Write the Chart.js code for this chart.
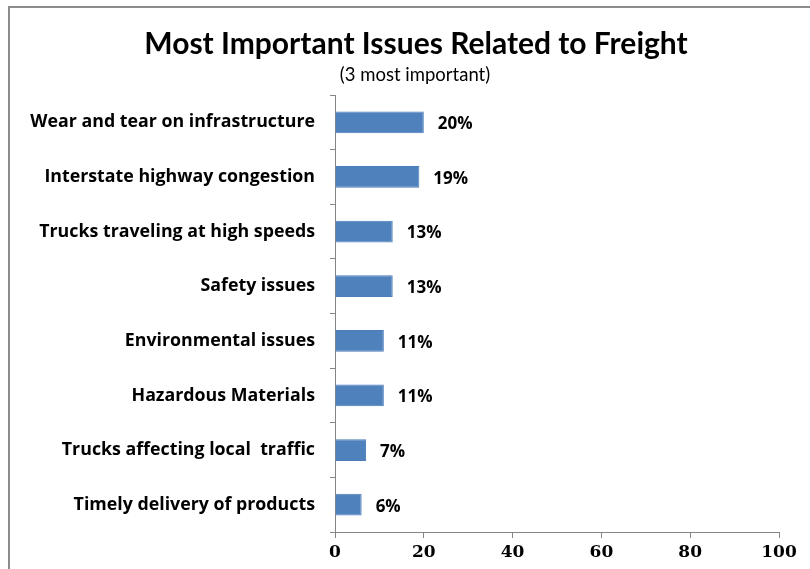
<!DOCTYPE html>
<html>
<head>
<meta charset="utf-8">
<script src="https://cdn.jsdelivr.net/npm/chart.js@4/dist/chart.umd.min.js"></script>
<style>
  html, body { margin: 0; padding: 0; background: #fff; overflow: hidden; }
  canvas { display: block; }
</style>
</head>
<body>
<canvas id="chart" width="810" height="569"></canvas>
<script>
const titulo = 'Most Important Issues Related to Freight';
const subtitulo = '(3 most important)';
const categorias = [
  'Wear and tear on infrastructure',
  'Interstate highway congestion',
  'Trucks traveling at high speeds',
  'Safety issues',
  'Environmental issues',
  'Hazardous Materials',
  'Trucks affecting local  traffic',
  'Timely delivery of products'
];
const porcentajes = [20, 19, 13, 13, 11, 11, 7, 6];
const ticksX = [0, 20, 40, 60, 80, 100];

// marco gris (solo lados izquierdo y superior visibles) + títulos
const marco = {
  id: 'marco',
  beforeDraw(chart) {
    const ctx = chart.ctx;
    ctx.save();
    ctx.strokeStyle = '#8c8c8c';
    ctx.lineWidth = 2;
    ctx.beginPath();
    ctx.moveTo(9, chart.height);
    ctx.lineTo(9, 7);
    ctx.lineTo(chart.width, 7);
    ctx.stroke();

    ctx.fillStyle = '#000';
    ctx.textAlign = 'center';
    ctx.textBaseline = 'middle';
    ctx.font = 'bold 30px Lato';
    ctx.fillText(titulo, 416, 44);
    ctx.font = '18.5px Lato';
    ctx.fillText(subtitulo, 415, 75);
    ctx.restore();
  }
};

// etiquetas de valor al final de cada barra
const etiquetasBarra = {
  id: 'etiquetasBarra',
  afterDatasetsDraw(chart) {
    const ctx = chart.ctx;
    const meta = chart.getDatasetMeta(0);
    ctx.save();
    ctx.font = 'bold 17px "Open Sans"';
    ctx.fillStyle = '#000';
    ctx.textAlign = 'left';
    ctx.textBaseline = 'middle';
    meta.data.forEach((bar, i) => {
      ctx.fillText(porcentajes[i] + '%', bar.x + 14, bar.y + 2);
    });
    ctx.restore();
  }
};

new Chart(document.getElementById('chart'), {
  type: 'bar',
  data: {
    labels: categorias,
    datasets: [{
      data: porcentajes,
      backgroundColor: '#4F81BD',
      borderColor: '#4A7DBA',
      borderWidth: 1,
      barPercentage: 0.8,
      categoryPercentage: 0.5
    }]
  },
  options: {
    indexAxis: 'y',
    responsive: false,
    animation: false,
    layout: { padding: { left: 0, right: 31, top: 95, bottom: 0 } },
    plugins: {
      legend: { display: false },
      tooltip: { enabled: false },
      title: { display: false }
    },
    scales: {
      x: {
        min: 0,
        max: 100,
        afterBuildTicks(scale) { scale.ticks = ticksX.map(v => ({ value: v })); },
        afterFit(scale) { scale.height = 37; },
        border: { display: true, color: '#868686', width: 1 },
        grid: { drawOnChartArea: false, drawTicks: true, tickLength: 6, color: '#868686' },
        ticks: { color: '#000', padding: 4, font: { family: 'DejaVu Serif', size: 17, weight: 'bold' } }
      },
      y: {
        afterFit(scale) { scale.width = 335; },
        border: { display: true, color: '#868686', width: 1 },
        grid: { offset: true, drawOnChartArea: false, drawTicks: true, tickLength: 5, color: '#868686' },
        ticks: { color: '#000', padding: 15, font: { family: 'Open Sans', size: 17.8, weight: 'bold' } }
      }
    }
  },
  plugins: [marco, etiquetasBarra]
});
</script>
</body>
</html>
